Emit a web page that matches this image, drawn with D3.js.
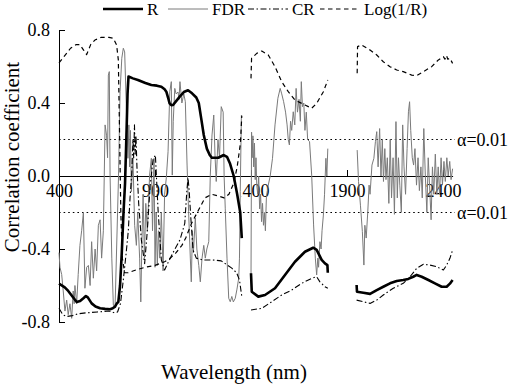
<!DOCTYPE html>
<html><head><meta charset="utf-8">
<script src="https://cdn.jsdelivr.net/npm/d3@7/dist/d3.min.js"></script>
<style>
body{margin:0;background:#fff}
svg{display:block}
text{font-family:"Liberation Serif","Times New Roman",serif;fill:#000}
</style>
</head><body>
<svg id="chart" width="510" height="390"></svg>
<script>
// ---------------- data ----------------
const seriesNames = ["R", "FDR", "CR", "Log(1/R)"];
const yTicks = [0.8, 0.4, 0.0, -0.4, -0.8];
const yTickLabels = ["0.8", "0.4", "0.0", "-0.4", "-0.8"];
const xTicks = [400, 900, 1400, 1900, 2400];
const xTickLabels = ["400", "900", "1400", "1900", "2400"];
const thresholds = [0.2, -0.2];
const thresholdLabel = "α=0.01";
const xTitle = "Wavelength (nm)";
const yTitle = "Correlation coefficient";

// R (reflectance)
const R_seg1 = [[400,-0.59],[430,-0.61],[448,-0.63],[470,-0.66],[492,-0.69],[510,-0.685],[527,-0.67],[540,-0.658],[550,-0.665],[570,-0.698],[590,-0.715],[614,-0.725],[640,-0.728],[666,-0.73],[680,-0.725],[692,-0.716],[700,-0.70],[709,-0.69],[718,-0.6],[727,-0.42],[736,-0.2],[744,-0.04],[752,0.25],[757,0.45],[762,0.545],[785,0.535],[811,0.526],[850,0.51],[881,0.499],[910,0.495],[933,0.489],[950,0.475],[959,0.462],[968,0.43],[976,0.398],[985,0.388],[994,0.389],[1010,0.41],[1029,0.435],[1050,0.46],[1072,0.47],[1093,0.453],[1115,0.43],[1128,0.40],[1140,0.32],[1154,0.225],[1170,0.15],[1185,0.115],[1196,0.1],[1230,0.1],[1258,0.115],[1275,0.105],[1290,0.07],[1310,0.0],[1328,-0.1],[1344,-0.2],[1352,-0.34]];
const R_seg2 = [[1400,-0.533],[1404,-0.634],[1438,-0.661],[1473,-0.652],[1525,-0.615],[1577,-0.542],[1629,-0.47],[1681,-0.415],[1724,-0.393],[1742,-0.405],[1768,-0.46],[1785,-0.479],[1798,-0.488],[1800,-0.53]];
const R_seg3 = [[1950,-0.597],[1952,-0.634],[1985,-0.64],[2020,-0.646],[2055,-0.625],[2089,-0.607],[2124,-0.588],[2159,-0.575],[2193,-0.57],[2219,-0.564],[2245,-0.552],[2263,-0.542],[2289,-0.552],[2324,-0.57],[2358,-0.588],[2393,-0.607],[2419,-0.607],[2436,-0.59],[2450,-0.57]];

// FDR (first derivative reflectance)
const FDR_seg1 = [[400,-0.42],[405,-0.5],[414,-0.54],[422,-0.63],[431,-0.74],[440,-0.68],[448,-0.76],[457,-0.70],[466,-0.78],[474,-0.63],[479,-0.70],[483,-0.60],[492,-0.70],[500,-0.54],[509,-0.38],[518,-0.30],[527,-0.20],[535,-0.615],[544,-0.50],[553,-0.49],[562,-0.60],[570,-0.36],[579,-0.56],[588,-0.40],[596,-0.52],[605,-0.27],[614,-0.24],[622,-0.45],[631,-0.30],[640,0.28],[648,0.22],[653,0.10],[657,0.553],[662,0.572],[666,0.005],[675,-0.45],[683,-0.707],[692,-0.72],[700,-0.40],[710,0.0],[718,0.462],[727,0.645],[735,0.70],[742,0.68],[751,0.37],[759,0.097],[764,0.28],[768,0.05],[772,0.25],[777,-0.086],[785,0.10],[794,-0.27],[803,-0.38],[810,-0.20],[820,-0.45],[826,-0.69],[832,-0.35],[838,-0.10],[845,-0.45],[852,-0.15],[860,-0.30],[872,0.005],[881,0.097],[887,-0.30],[895,0.097],[900,-0.50],[906,-0.20],[912,-0.49],[918,-0.30],[925,-0.45],[933,-0.20],[942,-0.52],[950,-0.10],[959,-0.01],[968,0.133],[977,0.462],[985,0.517],[990,0.005],[995,0.30],[1003,0.48],[1010,0.45],[1020,0.46],[1025,0.42],[1030,0.517],[1040,0.40],[1050,0.45],[1058,0.407],[1067,0.06],[1075,-0.196],[1084,-0.45],[1089,-0.58],[1095,-0.30],[1100,-0.42],[1110,-0.23],[1118,-0.40],[1128,-0.49],[1136,-0.58],[1145,-0.45],[1154,-0.38],[1162,-0.45],[1170,-0.40],[1180,-0.36],[1188,0.005],[1197,0.225],[1206,0.334],[1213,0.10],[1219,-0.03],[1228,0.20],[1236,0.10],[1245,0.38],[1255,0.35],[1260,0.0],[1266,-0.18],[1275,-0.45],[1284,-0.67],[1292,-0.689],[1300,-0.66],[1308,-0.69],[1318,-0.67],[1327,-0.62],[1336,-0.56],[1340,-0.45],[1344,-0.086],[1350,0.334]];
const FDR_seg2 = [[1400,-0.55],[1403,0.24],[1406,0.1],[1410,0.22],[1414,0.05],[1418,0.18],[1422,-0.02],[1426,0.1],[1430,-0.05],[1435,-0.1],[1440,0.0],[1445,-0.18],[1450,-0.1],[1455,-0.25],[1460,-0.15],[1465,-0.27],[1470,-0.2],[1475,-0.3],[1480,-0.12],[1490,-0.05],[1500,0.0],[1512,0.097],[1525,0.28],[1540,0.426],[1552,0.48],[1560,0.45],[1570,0.407],[1580,0.35],[1588,0.28],[1594,0.2],[1600,0.17],[1606,0.3],[1612,0.25],[1620,0.352],[1628,0.28],[1635,0.48],[1642,0.35],[1650,0.42],[1657,0.3],[1662,0.517],[1668,0.38],[1675,0.4],[1681,0.25],[1688,0.35],[1695,0.2],[1705,0.188],[1716,0.005],[1726,-0.268],[1735,-0.45],[1742,-0.542],[1748,-0.45],[1752,-0.5],[1759,-0.36],[1765,-0.4],[1770,-0.3],[1777,-0.214],[1783,-0.1],[1790,0.097],[1795,0.0],[1800,0.15]];
const FDR_seg3 = [[1953,0.142],[1960,-0.03],[1970,-0.16],[1980,-0.305],[1988,-0.488],[1993,-0.27],[2000,-0.34],[2008,-0.2],[2015,-0.05],[2020,-0.1],[2030,0.06],[2040,0.097],[2048,0.188],[2055,0.243],[2062,0.05],[2070,0.26],[2077,0.0],[2084,0.2],[2090,-0.03],[2097,0.15],[2103,-0.02],[2110,0.1],[2118,-0.15],[2125,0.2],[2132,-0.12],[2140,0.1],[2147,-0.21],[2155,0.298],[2162,-0.12],[2168,0.1],[2175,-0.05],[2183,-0.2],[2190,0.28],[2197,0.05],[2205,-0.1],[2213,0.15],[2220,0.352],[2226,0.407],[2232,0.25],[2240,0.1],[2247,0.06],[2254,0.15],[2262,-0.05],[2270,0.1],[2277,-0.08],[2285,0.05],[2292,-0.12],[2300,0.26],[2308,0.0],[2316,-0.2],[2323,0.1],[2330,-0.05],[2338,-0.24],[2345,0.05],[2352,-0.1],[2360,0.12],[2368,-0.1],[2375,0.05],[2382,-0.1],[2390,0.1],[2397,-0.05],[2405,0.08],[2412,-0.03],[2420,0.1],[2427,0.0],[2435,0.08],[2442,-0.02],[2450,0.04]];

// CR (continuum removal)
const CR_seg1 = [[400,-0.725],[420,-0.76],[440,-0.77],[470,-0.765],[500,-0.755],[540,-0.75],[600,-0.745],[660,-0.74],[690,-0.75],[705,-0.745],[720,-0.70],[735,-0.57],[750,-0.42],[761,-0.3],[770,-0.12],[779,0.015],[785,0.2],[789,0.1],[793,0.28],[797,0.12],[801,0.22],[806,0.05],[815,-0.15],[829,-0.35],[846,-0.48],[860,-0.3],[875,-0.05],[890,0.09],[902,0.115],[916,-0.186],[933,-0.46],[950,-0.515],[970,-0.47],[994,-0.42],[1030,-0.35],[1055,-0.26],[1066,-0.08],[1072,-0.01],[1078,-0.08],[1086,-0.22],[1098,-0.405],[1115,-0.45],[1150,-0.46],[1200,-0.46],[1245,-0.465],[1266,-0.48],[1300,-0.505],[1325,-0.53],[1340,-0.57],[1352,-0.66]];
const CR_seg2 = [[1400,-0.734],[1456,-0.725],[1508,-0.689],[1560,-0.652],[1612,-0.625],[1664,-0.588],[1716,-0.561],[1742,-0.552],[1759,-0.58],[1785,-0.607],[1800,-0.615]];
const CR_seg3 = [[1950,-0.68],[1985,-0.689],[2020,-0.698],[2055,-0.68],[2089,-0.652],[2141,-0.615],[2193,-0.588],[2228,-0.552],[2263,-0.506],[2298,-0.484],[2332,-0.488],[2367,-0.497],[2402,-0.515],[2419,-0.488],[2436,-0.451],[2450,-0.405]];

// Log(1/R)
const LOG_seg1 = [[400,0.62],[430,0.66],[460,0.70],[490,0.72],[509,0.72],[528,0.69],[544,0.665],[565,0.72],[587,0.745],[620,0.76],[660,0.76],[683,0.755],[700,0.718],[709,0.636],[716,0.2],[722,-0.2],[730,-0.45],[742,-0.53],[760,-0.53],[800,-0.515],[850,-0.50],[900,-0.49],[950,-0.47],[980,-0.45],[1010,-0.42],[1040,-0.38],[1060,-0.34],[1090,-0.26],[1110,-0.22],[1135,-0.17],[1160,-0.12],[1195,-0.10],[1230,-0.11],[1260,-0.12],[1285,-0.10],[1310,-0.04],[1328,0.05],[1345,0.18],[1352,0.33]];
const LOG_seg2 = [[1400,0.535],[1403,0.645],[1430,0.672],[1456,0.685],[1490,0.663],[1525,0.599],[1560,0.517],[1594,0.462],[1629,0.416],[1681,0.389],[1716,0.371],[1742,0.398],[1777,0.462],[1800,0.526]];
const LOG_seg3 = [[1953,0.563],[1955,0.709],[1976,0.718],[2020,0.69],[2055,0.663],[2089,0.626],[2124,0.599],[2159,0.581],[2193,0.572],[2237,0.553],[2263,0.55],[2298,0.572],[2341,0.599],[2376,0.636],[2402,0.654],[2410,0.64],[2418,0.66],[2425,0.64],[2436,0.645],[2450,0.617]];

// ---------------- drawing ----------------
const svg = d3.select("#chart");
const x = d3.scaleLinear().domain([400, 2450]).range([59, 452.6]);
const y = d3.scaleLinear().domain([-0.8, 0.8]).range([322, 30]);
const serif = '"Liberation Serif","Times New Roman",serif';

// x axis along zero line (ticks upward, labels below)
const xAxis = svg.append("g")
  .attr("transform", `translate(0,${y(0)})`)
  .attr("font-family", serif)
  .call(d3.axisBottom(x).tickValues(xTicks)
    .tickFormat((d, i) => xTickLabels[i])
    .tickSizeInner(-6).tickSizeOuter(0).tickPadding(8));
xAxis.attr("font-family", serif);
xAxis.selectAll("text").style("font-size", "18px").style("font-family", serif);
xAxis.select(".domain").attr("stroke", "#000").attr("stroke-width", 1);

// y axis (ticks inward)
const yAxis = svg.append("g")
  .attr("transform", `translate(${x(400)},0)`)
  .call(d3.axisLeft(y).tickValues(yTicks)
    .tickFormat((d, i) => yTickLabels[i])
    .tickSizeInner(-6).tickSizeOuter(0).tickPadding(9));
yAxis.attr("font-family", serif);
yAxis.selectAll("text").style("font-size", "18px").style("font-family", serif);

// white patch (plot area of 2nd panel hides part of the 1400 label)
svg.append("rect").attr("x", 230).attr("y", 181).attr("width", 11.5).attr("height", 20).attr("fill", "#fff");

// threshold lines
thresholds.forEach(t => {
  svg.append("line")
    .attr("x1", x(400)).attr("x2", 455)
    .attr("y1", y(t)).attr("y2", y(t))
    .attr("stroke", "#000").attr("stroke-width", 1)
    .attr("stroke-dasharray", "1.6,3");
  svg.append("text").attr("x", 457).attr("y", y(t)).attr("dy", "0.35em")
    .style("font-size", "18px").text(thresholdLabel);
});

const line = d3.line().x(d => x(d[0])).y(d => y(d[1]));
const styles = {
  "R":        {stroke: "#000", width: 2.6, dash: null},
  "FDR":      {stroke: "#7a7a7a", width: 1, dash: null},
  "CR":       {stroke: "#000", width: 1.1, dash: "6,2.5,1.5,2.5"},
  "Log(1/R)": {stroke: "#000", width: 1.2, dash: "4.5,3.5"}
};
const seriesData = {
  "FDR": [FDR_seg1, FDR_seg2, FDR_seg3],
  "CR": [CR_seg1, CR_seg2, CR_seg3],
  "Log(1/R)": [LOG_seg1, LOG_seg2, LOG_seg3],
  "R": [R_seg1, R_seg2, R_seg3]
};
["FDR", "CR", "Log(1/R)", "R"].forEach(name => {
  const s = styles[name];
  svg.append("g").selectAll("path").data(seriesData[name]).join("path")
    .attr("d", line).attr("fill", "none")
    .attr("stroke", s.stroke).attr("stroke-width", s.width)
    .attr("stroke-linejoin", "round")
    .attr("stroke-dasharray", s.dash);
});

// legend
const legendX = [103, 168, 248, 320];
const leg = svg.append("g");
seriesNames.forEach((name, i) => {
  const s = styles[name];
  leg.append("line").attr("x1", legendX[i]).attr("x2", legendX[i] + 40)
    .attr("y1", 9).attr("y2", 9)
    .attr("stroke", s.stroke).attr("stroke-width", s.width)
    .attr("stroke-dasharray", s.dash);
  leg.append("text").attr("x", legendX[i] + 44).attr("y", 9).attr("dy", "0.35em")
    .style("font-size", "17px").text(name);
});

// axis titles
svg.append("text").attr("x", 234).attr("y", 379).attr("text-anchor", "middle")
  .style("font-size", "21px").text(xTitle);
svg.append("text").attr("transform", "translate(19,157) rotate(-90)")
  .attr("text-anchor", "middle").style("font-size", "21px").text(yTitle);
</script>
</body></html>
